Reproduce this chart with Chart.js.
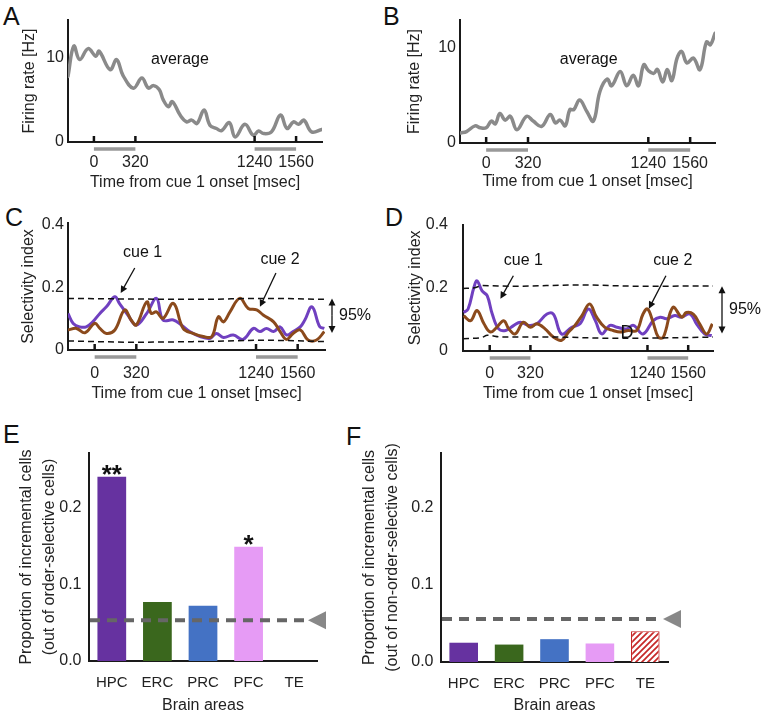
<!DOCTYPE html>
<html>
<head>
<meta charset="utf-8">
<title>Incremental cells figure</title>
<script src="https://cdn.jsdelivr.net/npm/chart.js@4.4.1/dist/chart.umd.min.js"></script>
<style>
  html, body { margin: 0; padding: 0; background: #fff; overflow: hidden; }
  body { position: relative; width: 762px; height: 715px; font-family: 'Liberation Sans', Arial, sans-serif; }
  canvas { position: absolute; }
  .tag { position: absolute; font-size: 25px; line-height: 25px; color: #111; }
</style>
</head>
<body>
<div class="tag" style="left:3px;top:4px">A</div>
<div class="tag" style="left:383px;top:4px">B</div>
<div class="tag" style="left:5px;top:205px">C</div>
<div class="tag" style="left:385px;top:205px">D</div>
<div class="tag" style="left:3px;top:422px">E</div>
<div class="tag" style="left:346px;top:424px">F</div>

<canvas id="chartA" width="380" height="196" style="left:0;top:0"></canvas>
<canvas id="chartB" width="382" height="196" style="left:380px;top:0"></canvas>
<canvas id="chartC" width="380" height="205" style="left:0;top:200px"></canvas>
<canvas id="chartD" width="382" height="205" style="left:380px;top:200px"></canvas>
<canvas id="chartE" width="380" height="285" style="left:0;top:430px"></canvas>
<canvas id="chartF" width="422" height="285" style="left:340px;top:430px"></canvas>

<script>
/* ── data ───────────────────────────────────────── */
var cueTicks = [0, 320, 1240, 1560];
var cuePeriods = [[0, 320], [1240, 1560]];

// A: average firing rate (decreasing cells)
var timeA = [-200, -155, -110, -45, 15, 40, 125, 175, 225, 305, 370, 420, 460, 505, 535, 575, 605, 665, 715, 755,
  795, 850, 895, 945, 985, 1045, 1090, 1165, 1230, 1270, 1310, 1370, 1440, 1490, 1540, 1580, 1620, 1680, 1760];
var rateA = [7.8, 11.4, 9.8, 11.1, 10.2, 10.8, 8.6, 9.8, 7.9, 6.4, 7.6, 6.4, 6.7, 6.2, 5.0, 4.2, 4.8, 3.2, 2.4, 2.6,
  2.2, 3.8, 2.0, 1.6, 1.35, 2.3, 0.6, 2.1, 0.8, 1.3, 1.0, 1.2, 3.2, 1.6, 2.4, 2.1, 2.6, 1.2, 1.5];

// B: average firing rate (incremental cells)
var timeB = [-195, -150, -85, -45, 0, 40, 70, 105, 145, 185, 235, 310, 360, 425, 490, 530, 565, 605, 640, 670,
  715, 770, 820, 870, 925, 960, 1025, 1075, 1125, 1165, 1205, 1240, 1280, 1310, 1350, 1385, 1420, 1460, 1495, 1535,
  1585, 1635, 1685, 1715, 1750];
var rateB = [1.05, 1.2, 1.8, 1.6, 1.6, 2.3, 2.0, 3.1, 2.4, 2.8, 1.4, 2.8, 2.3, 1.75, 3.0, 2.1, 2.4, 1.8, 3.5, 3.5,
  4.5, 3.3, 2.3, 5.4, 6.7, 6.0, 7.5, 6.0, 7.1, 6.0, 8.2, 7.6, 7.3, 7.7, 6.4, 7.7, 6.55, 8.9, 9.6, 8.4,
  8.9, 7.7, 10.6, 10.3, 11.5];

// C: selectivity index, cue 1 (purple) and cue 2 (brown)
var timeC1 = [-205, -165, -115, -65, -15, 40, 90, 155, 190, 255, 320, 400, 475, 525, 605, 665, 730, 810, 885, 935,
  990, 1065, 1140, 1220, 1270, 1320, 1375, 1425, 1475, 1525, 1580, 1615, 1670, 1730, 1765];
var cue1C = [0.117, 0.085, 0.074, 0.074, 0.09, 0.117, 0.138, 0.17, 0.149, 0.112, 0.08, 0.117, 0.165, 0.096, 0.096,
  0.08, 0.059, 0.043, 0.037, 0.053, 0.04, 0.048, 0.034, 0.069, 0.059, 0.069, 0.059, 0.074, 0.048, 0.059,
  0.074, 0.096, 0.138, 0.074, 0.069];
var timeC2 = [-205, -140, -75, 0, 40, 90, 155, 230, 280, 320, 400, 435, 475, 525, 605, 680, 755, 835, 900, 950,
  990, 1040, 1115, 1180, 1245, 1295, 1375, 1425, 1475, 1525, 1580, 1640, 1705, 1765];
var cue2C = [0.064, 0.069, 0.055, 0.085, 0.069, 0.053, 0.064, 0.128, 0.096, 0.08, 0.154, 0.117, 0.122, 0.101, 0.149,
  0.069, 0.053, 0.043, 0.043, 0.106, 0.09, 0.122, 0.165, 0.133, 0.128, 0.112, 0.09, 0.059, 0.034, 0.053,
  0.064, 0.032, 0.032, 0.059];
var timeBandC = [-205, 300, 800, 1300, 1770];
var upperC = [0.165, 0.163, 0.162, 0.165, 0.162];
var lowerC = [0.029, 0.025, 0.027, 0.031, 0.027];

// D: selectivity index
var timeD1 = [-205, -170, -125, -100, -60, -20, 20, 70, 125, 190, 240, 305, 370, 450, 500, 565, 645, 710, 775, 830,
  880, 945, 1000, 1075, 1130, 1205, 1285, 1340, 1390, 1455, 1505, 1575, 1625, 1690, 1745];
var cue1D = [0.122, 0.133, 0.2, 0.222, 0.19, 0.175, 0.117, 0.07, 0.065, 0.081, 0.091, 0.081, 0.086, 0.117, 0.117,
  0.054, 0.075, 0.086, 0.133, 0.096, 0.054, 0.081, 0.075, 0.07, 0.081, 0.054, 0.096, 0.107, 0.102, 0.112,
  0.107, 0.117, 0.086, 0.054, 0.049];
var timeD2 = [-205, -150, -100, -45, 5, 55, 110, 150, 200, 265, 320, 370, 435, 500, 565, 620, 670, 725, 785, 840,
  905, 970, 1025, 1090, 1155, 1205, 1240, 1280, 1325, 1365, 1440, 1510, 1545, 1600, 1650, 1705, 1750];
var cue2D = [0.112, 0.096, 0.128, 0.086, 0.06, 0.075, 0.096, 0.07, 0.054, 0.091, 0.075, 0.086, 0.07, 0.044, 0.034,
  0.06, 0.081, 0.112, 0.149, 0.107, 0.075, 0.065, 0.06, 0.065, 0.065, 0.117, 0.133, 0.096, 0.044, 0.044,
  0.138, 0.107, 0.122, 0.117, 0.086, 0.054, 0.086];
var timeUpperD = [-210, -120, -60, 200, 700, 1200, 1755];
var upperD = [0.198, 0.2, 0.207, 0.205, 0.209, 0.205, 0.206];
var timeLowerD = [-210, -60, -20, 100, 500, 1000, 1755];
var lowerD = [0.039, 0.043, 0.05, 0.044, 0.044, 0.04, 0.044];

// E / F: proportion of incremental cells per area
var areas = ['HPC', 'ERC', 'PRC', 'PFC', 'TE'];
var propE = [0.24, 0.077, 0.072, 0.149, 0];
var propF = [0.025, 0.0226, 0.0296, 0.024, 0.04];
var sigE = ['**', '', '', '*', ''];
var chanceE = 0.053;
var chanceF = 0.0557;

(function () {
  'use strict';

  if (typeof Chart === 'undefined') return;

  Chart.defaults.font.family = "'Liberation Sans', Arial, sans-serif";
  Chart.defaults.font.size = 16;
  Chart.defaults.color = '#222';
  Chart.defaults.animation = false;
  Chart.defaults.devicePixelRatio = 1;

  var FONT = "'Liberation Sans', Arial, sans-serif";

  function pts(xs, ys) {
    return xs.map(function (x, i) { return { x: x, y: ys[i] }; });
  }

  function arrow(ctx, x1, y1, x2, y2) {
    var a = Math.atan2(y2 - y1, x2 - x1), L = 7, W = 3.5;
    ctx.beginPath(); ctx.moveTo(x1, y1); ctx.lineTo(x2 - Math.cos(a) * 4, y2 - Math.sin(a) * 4); ctx.stroke();
    ctx.beginPath();
    ctx.moveTo(x2, y2);
    ctx.lineTo(x2 - L * Math.cos(a) + W * Math.sin(a), y2 - L * Math.sin(a) - W * Math.cos(a));
    ctx.lineTo(x2 - L * Math.cos(a) - W * Math.sin(a), y2 - L * Math.sin(a) + W * Math.cos(a));
    ctx.closePath(); ctx.fill();
  }

  /* ── plugins ──────────────────────────────────── */
  var cueMarks = {
    id: 'cueMarks',
    afterDraw: function (chart) {
      var ctx = chart.ctx, xs = chart.scales.x, b = chart.chartArea.bottom;
      ctx.save();
      ctx.strokeStyle = '#111'; ctx.lineWidth = 2.5;
      cueTicks.forEach(function (t) {
        var px = xs.getPixelForValue(t);
        ctx.beginPath(); ctx.moveTo(px, b); ctx.lineTo(px, b - 6); ctx.stroke();
      });
      ctx.strokeStyle = '#999'; ctx.lineWidth = 3.5;
      cuePeriods.forEach(function (p) {
        ctx.beginPath();
        ctx.moveTo(xs.getPixelForValue(p[0]), b + 7);
        ctx.lineTo(xs.getPixelForValue(p[1]), b + 7);
        ctx.stroke();
      });
      ctx.restore();
    }
  };

  var notes = {
    id: 'notes',
    afterDraw: function (chart, args, opts) {
      var ctx = chart.ctx, xs = chart.scales.x, ys = chart.scales.y, ca = chart.chartArea;
      ctx.save();
      ctx.fillStyle = '#111'; ctx.strokeStyle = '#111'; ctx.lineWidth = 1.3;
      ctx.textAlign = 'center'; ctx.textBaseline = 'middle';
      (opts.labels || []).forEach(function (n) {
        ctx.font = (n.size || 16) + 'px ' + FONT;
        ctx.fillText(n.text, xs.getPixelForValue(n.at[0]), ys.getPixelForValue(n.at[1]));
      });
      (opts.arrows || []).forEach(function (a) {
        arrow(ctx, xs.getPixelForValue(a[0]), ys.getPixelForValue(a[1]),
          xs.getPixelForValue(a[2]), ys.getPixelForValue(a[3]));
      });
      if (opts.band) {
        var bx = ca.right + opts.band.dx;
        var y1 = ys.getPixelForValue(opts.band.from), y2 = ys.getPixelForValue(opts.band.to);
        var mid = (y1 + y2) / 2;
        arrow(ctx, bx, mid, bx, y1);
        arrow(ctx, bx, mid, bx, y2);
        ctx.font = '16px ' + FONT; ctx.textAlign = 'left';
        ctx.fillText('95%', bx + 7, mid);
      }
      ctx.restore();
    }
  };

  var chanceLine = {
    id: 'chanceLine',
    afterDatasetsDraw: function (chart, args, opts) {
      var ctx = chart.ctx, ca = chart.chartArea;
      var y = chart.scales.y.getPixelForValue(opts.value);
      var tip = ca.right + opts.tip;
      ctx.save();
      ctx.strokeStyle = '#666'; ctx.lineWidth = 4; ctx.setLineDash([10, 7]);
      ctx.beginPath(); ctx.moveTo(ca.left + 1, y); ctx.lineTo(tip - 3, y); ctx.stroke();
      ctx.setLineDash([]);
      ctx.fillStyle = '#888';
      ctx.beginPath(); ctx.moveTo(tip, y); ctx.lineTo(tip + 18, y - 9); ctx.lineTo(tip + 18, y + 9);
      ctx.closePath(); ctx.fill();
      ctx.restore();
    }
  };

  var stars = {
    id: 'stars',
    afterDatasetsDraw: function (chart, args, opts) {
      if (!opts.marks) return;
      var ctx = chart.ctx;
      ctx.save();
      ctx.fillStyle = '#111'; ctx.font = 'bold 26px ' + FONT;
      ctx.textAlign = 'center'; ctx.textBaseline = 'alphabetic';
      chart.getDatasetMeta(0).data.forEach(function (bar, i) {
        if (opts.marks[i]) ctx.fillText(opts.marks[i], bar.x, bar.y + 6);
      });
      ctx.restore();
    }
  };

  /* ── scale builders ───────────────────────────── */
  function yAxis(o) {
    return {
      min: 0, max: o.max,
      grid: { display: false, drawTicks: false },
      border: { display: true, color: '#1a1a1a', width: 2 },
      afterBuildTicks: function (s) { s.ticks = o.ticks.map(function (v) { return { value: v }; }); },
      afterFit: function (s) { s.width = o.width; },
      ticks: { padding: o.pad, color: '#222', font: { size: 16 }, callback: o.fmt, autoSkip: false },
      title: { display: true, text: o.title, color: '#222',
        font: { size: 16, lineHeight: 1.42 }, padding: { top: o.titlePad, bottom: 0 } }
    };
  }

  function timeAxis(o) {
    return {
      type: 'linear', min: o.min, max: o.max,
      grid: { display: false, drawTicks: false },
      border: { display: true, color: '#1a1a1a', width: 2 },
      afterBuildTicks: function (s) { s.ticks = cueTicks.map(function (v) { return { value: v }; }); },
      afterFit: function (s) { s.height = o.height; },
      ticks: { padding: o.pad, color: '#222', font: { size: 16 }, maxRotation: 0, autoSkip: false,
        callback: function (v) { return String(v); } },
      title: { display: true, text: 'Time from cue 1 onset [msec]', color: '#222',
        font: { size: 16 }, padding: { top: 0, bottom: o.titlePad } }
    };
  }

  function baseOptions(pad) {
    return {
      responsive: false,
      animation: false,
      layout: { padding: pad },
      plugins: { legend: { display: false }, tooltip: { enabled: false } },
      elements: { point: { radius: 0 } }
    };
  }

  function rateChart(id, t, r, o) {
    var opts = baseOptions(o.padding);
    opts.scales = {
      x: timeAxis(o.x),
      y: yAxis({ max: o.yMax, ticks: [0, 10], width: o.yWidth, pad: o.yPad, title: 'Firing rate [Hz]',
        titlePad: o.titlePad, fmt: function (v) { return String(v); } })
    };
    opts.plugins.notes = { labels: [{ text: 'average', at: o.note }] };
    new Chart(document.getElementById(id), {
      type: 'line',
      data: {
        datasets: [{
          data: pts(t, r), borderColor: '#8a8a8a', borderWidth: 3.5, tension: 0.4,
          borderCapStyle: 'round', borderJoinStyle: 'round'
        }]
      },
      options: opts,
      plugins: [cueMarks, notes]
    });
  }

  function dashed(t, v) {
    return { data: pts(t, v), borderColor: '#111', borderWidth: 1.5, borderDash: [6, 4],
      cubicInterpolationMode: 'monotone' };
  }

  function selChart(id, sets, o) {
    var opts = baseOptions(o.padding);
    opts.scales = {
      x: timeAxis(o.x),
      y: yAxis({ max: o.yMax, ticks: [0, 0.2, 0.4], width: o.yWidth, pad: o.yPad, title: 'Selectivity index',
        titlePad: o.titlePad, fmt: function (v) { return v === 0 ? '0' : v.toFixed(1); } })
    };
    opts.plugins.notes = o.notes;
    new Chart(document.getElementById(id), {
      type: 'line',
      data: {
        datasets: [
          dashed(sets.upT, sets.up),
          dashed(sets.loT, sets.lo),
          { data: pts(sets.t2, sets.cue2), borderColor: '#8b4a1c', borderWidth: 3, tension: 0.4 },
          { data: pts(sets.t1, sets.cue1), borderColor: '#7040c0', borderWidth: 3, tension: 0.4 }
        ]
      },
      options: opts,
      plugins: [cueMarks, notes]
    });
  }

  function hatch() {
    var c = document.createElement('canvas');
    c.width = 6; c.height = 6;
    var g = c.getContext('2d');
    g.fillStyle = '#fff'; g.fillRect(0, 0, 6, 6);
    g.strokeStyle = '#c62828'; g.lineWidth = 1.7;
    g.beginPath();
    g.moveTo(0, 6); g.lineTo(6, 0);
    g.moveTo(-1, 1); g.lineTo(1, -1);
    g.moveTo(5, 7); g.lineTo(7, 5);
    g.stroke();
    return g.createPattern(c, 'repeat');
  }

  function propChart(id, values, o) {
    var opts = baseOptions(o.padding);
    opts.scales = {
      x: {
        type: 'category', offset: true,
        grid: { display: false, drawTicks: false },
        border: { display: true, color: '#1a1a1a', width: 2 },
        afterFit: function (s) { s.height = o.xHeight; },
        ticks: { padding: o.xPad, color: '#222', font: { size: 15 }, maxRotation: 0, autoSkip: false },
        title: { display: true, text: 'Brain areas', color: '#222', font: { size: 16 },
          padding: { top: 0, bottom: 0 } }
      },
      y: yAxis({ max: 0.271, ticks: [0, 0.1, 0.2], width: o.yWidth, pad: 7.5, title: o.title,
        titlePad: o.titlePad, fmt: function (v) { return v.toFixed(1); } })
    };
    opts.plugins.chanceLine = { value: o.chance, tip: o.tip };
    opts.plugins.stars = { marks: o.marks };
    new Chart(document.getElementById(id), {
      type: 'bar',
      data: {
        labels: areas,
        datasets: [{
          data: values,
          backgroundColor: ['#6632a0', '#3a671d', '#4472c4', '#e69bf5', hatch()],
          borderColor: ['#6632a0', '#3a671d', '#4472c4', '#e69bf5', '#c62828'],
          borderWidth: [0, 0, 0, 0, 1.2],
          barPercentage: 0.63, categoryPercentage: 1
        }]
      },
      options: opts,
      plugins: [chanceLine, stars]
    });
  }

  /* ── A & B: average firing rate ───────────────── */
  rateChart('chartA', timeA, rateA, {
    padding: { top: 20, left: 0, right: 58, bottom: 0 },
    x: { min: -200, max: 1760, height: 54, pad: 11.4, titlePad: 3.4 },
    yMax: 14.5, yWidth: 68, yPad: 4, titlePad: 18, note: [664, 9.75]
  });
  rateChart('chartB', timeB, rateB, {
    padding: { top: 20, left: 0, right: 47, bottom: 0 },
    x: { min: -200, max: 1750, height: 53, pad: 10.7, titlePad: 4.7 },
    yMax: 12.9, yWidth: 80, yPad: 4, titlePad: 23.5, note: [784, 8.7]
  });

  /* ── C & D: selectivity index ─────────────────── */
  selChart('chartC', {
    t1: timeC1, cue1: cue1C, t2: timeC2, cue2: cue2C,
    upT: timeBandC, up: upperC, loT: timeBandC, lo: lowerC
  }, {
    padding: { top: 23, left: 0, right: 55, bottom: 0 },
    x: { min: -205, max: 1770, height: 55, pad: 13.7, titlePad: 2.1 },
    yMax: 0.406, yWidth: 68, yPad: 4, titlePad: 17,
    notes: {
      labels: [{ text: 'cue 1', at: [369, 0.31] }, { text: 'cue 2', at: [1424, 0.288] }],
      arrows: [[308, 0.262, 200, 0.182], [1393, 0.246, 1270, 0.138]],
      band: { dx: 7, from: 0.165, to: 0.054 }
    }
  });
  selChart('chartD', {
    t1: timeD1, cue1: cue1D, t2: timeD2, cue2: cue2D,
    upT: timeUpperD, up: upperD, loT: timeLowerD, lo: lowerD
  }, {
    padding: { top: 23, left: 0, right: 49, bottom: 0 },
    x: { min: -210, max: 1755, height: 54, pad: 13, titlePad: 2.1 },
    yMax: 0.4, yWidth: 83, yPad: 15, titlePad: 24.4,
    notes: {
      labels: [{ text: 'cue 1', at: [264, 0.285] }, { text: 'cue 2', at: [1439, 0.285] },
        { text: 'D', at: [1079, 0.056], size: 18 }],
      arrows: [[186, 0.238, 84, 0.165], [1385, 0.238, 1251, 0.134]],
      band: { dx: 9, from: 0.205, to: 0.055 }
    }
  });

  /* ── E & F: proportion of incremental cells ───── */
  propChart('chartE', propE, {
    padding: { top: 23, left: 0, right: 63, bottom: 0 },
    xHeight: 54, xPad: 13.3, yWidth: 89, titlePad: 15.3,
    title: ['Proportion of incremental cells', '(out of order-selective cells)'],
    chance: chanceE, tip: -9, marks: sigE
  });
  propChart('chartF', propF, {
    padding: { top: 23, left: 0, right: 94, bottom: 0 },
    xHeight: 53, xPad: 12.6, yWidth: 101, titlePad: 18.6,
    title: ['Proportion of incremental cells', '(out of non-order-selective cells)'],
    chance: chanceF, tip: -5, marks: null
  });

}());
</script>
</body>
</html>
